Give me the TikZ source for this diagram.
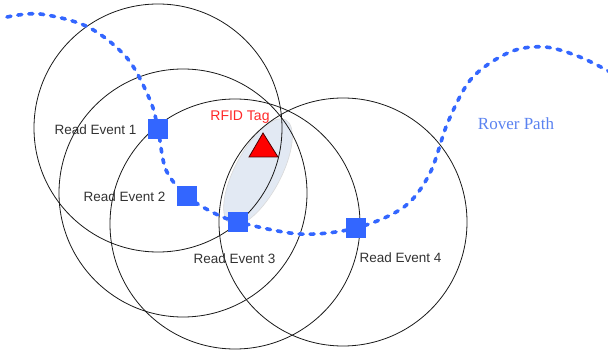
\documentclass[tikz,border=0pt]{standalone}
\usepackage{fontspec}
\setmainfont{Liberation Sans}
\newfontfamily\serifface{Liberation Serif}
\definecolor{pathblue}{RGB}{51,102,255}
\definecolor{labelblue}{RGB}{90,130,240}
\definecolor{lensfill}{RGB}{226,233,243}
\definecolor{tagred}{RGB}{255,40,40}
\definecolor{textgray}{RGB}{50,50,50}
\tikzset{
  readerrange/.style={draw=black!90, line width=0.8pt},
  rover/.style={draw=pathblue, line width=3.6pt, line cap=round, dash pattern=on 4pt off 7pt},
  readpt/.style={fill=pathblue, draw=none, minimum size=20pt, inner sep=0pt, rectangle},
  evlabel/.style={text=textgray, font=\fontsize{13.5}{14}\selectfont, anchor=base, inner sep=0pt},
}
\begin{document}
\begin{tikzpicture}[x=1pt, y=-1pt]
  \useasboundingbox (0,0) rectangle (608,358);

  % read event positions
  \coordinate (p1) at (158,129);
  \coordinate (p2) at (187,196);
  \coordinate (p3) at (238,222);
  \coordinate (p4) at (356,228);

  % lens where the tag must lie
  \begin{scope}[shift={(258,172)}, rotate=62]
    \fill[lensfill, draw=black!15, line width=0.6pt] (0,0) ellipse [x radius=59, y radius=23];
  \end{scope}

  % reader ranges
  \draw[readerrange] (158,128) circle [radius=124];
  \draw[readerrange] (183,193) circle [radius=124];
  \draw[readerrange] (235,224) circle [radius=125];
  \draw[readerrange] (343,222) circle [radius=124];

  % rover path
  \draw[rover] plot[smooth, tension=0.55] coordinates {
    (7,17) (40,14) (88,27) (127,58) (150,100) (p1) (166,170) (p2) (212,212) (p3)
    (300,234) (p4) (404,207) (430,173) (448,122) (472,78) (510,52) (545,47) (580,57) (612,73)};

  % read events
  \node[readpt] (r1) at (p1) {};
  \node[readpt] (r2) at (p2) {};
  \node[readpt] (r3) at (p3) {};
  \node[readpt] (r4) at (p4) {};

  % RFID tag
  \coordinate (t1) at (263,133);
  \coordinate (t2) at (249,157);
  \coordinate (t3) at (278,157);
  \draw[fill=red, draw=black!70!red, line width=0.8pt, line join=miter] (t1) -- (t2) -- (t3) -- cycle;

  % labels
  \node[evlabel] (l1) at (95.5,134.5) {Read Event 1};
  \node[evlabel] (l2) at (124.5,202) {Read Event 2};
  \node[evlabel] (l3) at (234.5,264) {Read Event 3};
  \node[evlabel] (l4) at (400.5,263) {Read Event 4};
  \node[anchor=base, inner sep=0pt, text=tagred, font=\fontsize{14}{15}\selectfont] (tag) at (240,120.5) {RFID Tag};
  \node[anchor=base, inner sep=0pt, text=labelblue, font=\serifface\fontsize{17}{18}\selectfont] (rp) at (516,129.5) {Rover Path};
\end{tikzpicture}
\end{document}
